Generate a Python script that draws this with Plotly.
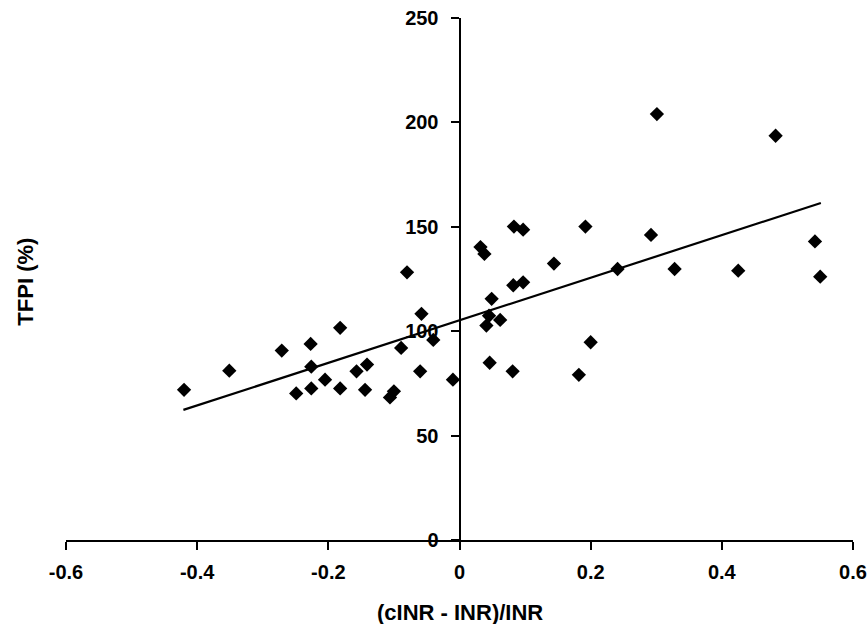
import plotly.graph_objects as go

# Scatter data
ratio = [-0.420, -0.351, -0.271, -0.249, -0.227, -0.226, -0.226, -0.205, -0.182, -0.182,
         -0.157, -0.141, -0.144, -0.106, -0.100, -0.089, -0.080, -0.060, -0.058, -0.040,
         -0.010, 0.032, 0.038, 0.041, 0.045, 0.049, 0.046, 0.062, 0.081, 0.082,
         0.083, 0.097, 0.097, 0.144, 0.182, 0.192, 0.200, 0.241, 0.292, 0.301,
         0.328, 0.425, 0.482, 0.542, 0.550]
tfpi = [71.9, 81.1, 90.7, 70.2, 93.9, 83.0, 72.6, 76.8, 101.6, 72.6,
        80.8, 84.0, 71.9, 68.3, 71.2, 92.0, 128.2, 80.8, 108.3, 95.8,
        76.8, 140.3, 137.0, 102.7, 107.4, 115.5, 84.9, 105.4, 80.8, 122.0,
        150.1, 123.4, 148.6, 132.4, 79.1, 150.1, 94.7, 129.8, 146.1, 204.0,
        129.8, 129.0, 193.6, 143.0, 126.1]

# Linear trend line end points
trend_x = [-0.421, 0.551]
trend_y = [62.3, 161.4]

x_ticks = [-0.6, -0.4, -0.2, 0, 0.2, 0.4, 0.6]
x_tick_labels = ["-0.6", "-0.4", "-0.2", "0", "0.2", "0.4", "0.6"]
y_ticks = [0, 50, 100, 150, 200, 250]
y_tick_labels = ["0", "50", "100", "150", "200", "250"]

FONT = "Liberation Sans, Arial, sans-serif"

fig = go.Figure()
fig.add_trace(go.Scatter(x=trend_x, y=trend_y, mode="lines",
                         line=dict(color="black", width=2.2), hoverinfo="skip"))
fig.add_trace(go.Scatter(x=ratio, y=tfpi, mode="markers",
                         marker=dict(symbol="diamond", size=11, color="black",
                                     line=dict(width=0))))

fig.update_layout(
    width=867, height=624,
    margin=dict(l=66, r=14, t=18, b=84),
    paper_bgcolor="white", plot_bgcolor="white",
    showlegend=False,
    font=dict(family=FONT, color="black"),
    xaxis=dict(range=[-0.6, 0.6], tickvals=x_ticks, ticktext=x_tick_labels,
               showgrid=False, zeroline=False, showline=True, linecolor="black",
               linewidth=2, ticks="outside", ticklen=8, tickwidth=2, tickcolor="black",
               tickfont=dict(family=FONT, size=20, color="black", weight="bold"),
               ticklabelstandoff=5, ticklabeloverflow="allow", automargin=False),
    yaxis=dict(range=[0, 250], tickvals=y_ticks, ticktext=y_tick_labels,
               anchor="free", position=0.5,
               showgrid=False, zeroline=False, showline=True, linecolor="black",
               linewidth=2, ticks="outside", ticklen=8, tickwidth=2, tickcolor="black",
               tickfont=dict(family=FONT, size=20, color="black", weight="bold"),
               ticklabelstandoff=8, ticklabeloverflow="allow", automargin=False),
    annotations=[
        dict(text="<b>(cINR - INR)/INR</b>", xref="paper", yref="paper",
             x=0.5, y=-0.138, xanchor="center", yanchor="middle", showarrow=False,
             font=dict(family=FONT, size=22, color="black")),
        dict(text="<b>TFPI (%)</b>", xref="paper", yref="paper",
             x=-0.0508, y=0.495, xanchor="center", yanchor="middle", showarrow=False,
             textangle=-90, font=dict(family=FONT, size=22, color="black")),
    ],
)

# Remove the default page margin so the figure sits at the window's top-left corner.
fig.write_html("out.html",
               config={"displayModeBar": False},
               post_script="document.body.style.margin='0';document.body.style.overflow='hidden';")
